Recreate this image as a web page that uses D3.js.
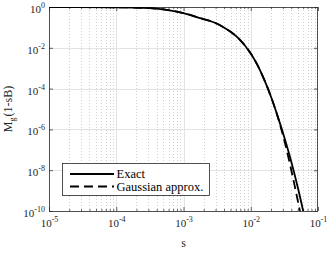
<!DOCTYPE html>
<html>
<head>
<meta charset="utf-8">
<script src="https://cdn.jsdelivr.net/npm/d3@7"></script>
<style>
  body { margin: 0; background: #fff; }
</style>
</head>
<body>
<div id="chart"></div>
<script>
// Size of the page and the plot box
const width = 330;
const height = 253;
const margin = { top: 7, right: 12, bottom: 42, left: 49 };
const fontFamily = "'Liberation Serif', 'Times New Roman', Times, 'DejaVu Serif', serif";

// Data
const sValues = [1e-5, 1e-4, 3.16e-4, 5.62e-4, 1e-3, 1.78e-3, 3.16e-3, 3.98e-3, 6.31e-3,
                 1e-2, 1.26e-2, 1.58e-2, 2e-2, 2.51e-2, 3.16e-2, 3.98e-2, 5.01e-2, 6.31e-2];
const exactValues = [0.999, 0.966, 0.871, 0.724, 0.50, 0.282, 0.151, 0.100, 0.0331,
                     5.25e-3, 1.41e-3, 2.82e-4, 3.98e-5, 4.47e-6, 3.98e-7, 2.82e-8, 1.41e-9, 5.01e-11];
const gaussValues = [0.999, 0.966, 0.871, 0.724, 0.50, 0.282, 0.151, 0.100, 0.0331,
                     5.25e-3, 1.41e-3, 2.82e-4, 3.98e-5, 4.3e-6, 2.82e-7, 1.12e-8, 3.16e-10, 7.08e-12];
const seriesNames = ["Exact", "Gaussian approx."];

// Ticks
const xTicks = [1e-5, 1e-4, 1e-3, 1e-2, 1e-1];
const xTickExp = ["-5", "-4", "-3", "-2", "-1"];
const yTicks = [1, 1e-2, 1e-4, 1e-6, 1e-8, 1e-10];
const yTickExp = ["0", "-2", "-4", "-6", "-8", "-10"];
const minorMult = [2, 3, 4, 5, 6, 7, 8, 9];

const axisColor = "#262626";

const x = d3.scaleLog()
    .domain([1e-5, 1e-1])
    .range([margin.left, width - margin.right]);

const y = d3.scaleLog()
    .domain([1e-10, 1])
    .range([height - margin.bottom, margin.top]);

const svg = d3.select("#chart")
    .append("svg")
    .attr("width", width)
    .attr("height", height)
    .attr("font-family", fontFamily)
    .style("display", "block");

const x0 = x.range()[0], x1 = x.range()[1];
const y0 = y.range()[1], y1 = y.range()[0];

// minor x values
const xMinor = [];
xTicks.slice(0, -1).forEach(t => minorMult.forEach(m => xMinor.push(t * m)));

// Grid: minor dotted, major light solid
svg.append("g")
    .selectAll("line")
    .data(xMinor)
    .enter()
    .append("line")
    .attr("x1", d => Math.round(x(d)) + 0.5).attr("x2", d => Math.round(x(d)) + 0.5)
    .attr("y1", y0).attr("y2", y1)
    .attr("stroke", "#c4c4c4")
    .attr("stroke-width", 0.8)
    .attr("stroke-dasharray", "1,2");

svg.append("g")
    .selectAll("line")
    .data(xTicks.slice(1, -1))
    .enter()
    .append("line")
    .attr("x1", d => Math.round(x(d)) + 0.5).attr("x2", d => Math.round(x(d)) + 0.5)
    .attr("y1", y0).attr("y2", y1)
    .attr("stroke", "#e3e3e3")
    .attr("stroke-width", 1);

svg.append("g")
    .selectAll("line")
    .data(yTicks.slice(1, -1))
    .enter()
    .append("line")
    .attr("x1", x0).attr("x2", x1)
    .attr("y1", d => Math.round(y(d)) + 0.5).attr("y2", d => Math.round(y(d)) + 0.5)
    .attr("stroke", "#e3e3e3")
    .attr("stroke-width", 1);

// Axes (ticks pointing inward, box on all four sides)
const fmtNone = () => "";
function styleAxis(g) {
    g.select(".domain").remove();
    g.selectAll("line").attr("stroke", axisColor).attr("stroke-width", 0.7);
}

svg.append("g")
    .attr("transform", `translate(0,${y1})`)
    .call(d3.axisBottom(x).tickValues(xTicks).tickSize(-4).tickFormat(fmtNone))
    .call(styleAxis);
svg.append("g")
    .attr("transform", `translate(0,${y1})`)
    .call(d3.axisBottom(x).tickValues(xMinor).tickSize(-2).tickFormat(fmtNone))
    .call(styleAxis);
svg.append("g")
    .attr("transform", `translate(0,${y0})`)
    .call(d3.axisTop(x).tickValues(xTicks).tickSize(-4).tickFormat(fmtNone))
    .call(styleAxis);
svg.append("g")
    .attr("transform", `translate(0,${y0})`)
    .call(d3.axisTop(x).tickValues(xMinor).tickSize(-2).tickFormat(fmtNone))
    .call(styleAxis);
svg.append("g")
    .attr("transform", `translate(${x0},0)`)
    .call(d3.axisLeft(y).tickValues(yTicks).tickSize(-4).tickFormat(fmtNone))
    .call(styleAxis);
svg.append("g")
    .attr("transform", `translate(${x1},0)`)
    .call(d3.axisRight(y).tickValues(yTicks).tickSize(-4).tickFormat(fmtNone))
    .call(styleAxis);

// Frame
svg.append("rect")
    .attr("x", x0 + 0.5).attr("y", y0 + 0.5)
    .attr("width", x1 - x0 - 1).attr("height", y1 - y0)
    .attr("fill", "none")
    .attr("stroke", axisColor)
    .attr("stroke-width", 0.8);

// Tick labels with superscripts
function powerLabel(sel, exp) {
    sel.append("tspan").text("10");
    sel.append("tspan").attr("dy", -5).attr("font-size", 8).text(exp);
}

xTicks.forEach((t, i) => {
    svg.append("text")
        .attr("x", x(t) + 0.5)
        .attr("y", y1 + 16)
        .attr("text-anchor", "middle")
        .attr("font-size", 11)
        .attr("fill", axisColor)
        .call(powerLabel, xTickExp[i]);
});

yTicks.forEach((t, i) => {
    svg.append("text")
        .attr("x", x0 - 4)
        .attr("y", y(t) + 6)
        .attr("text-anchor", "end")
        .attr("font-size", 11)
        .attr("fill", axisColor)
        .call(powerLabel, yTickExp[i]);
});

// Axis titles
svg.append("text")
    .attr("x", (x0 + x1) / 2)
    .attr("y", 247)
    .attr("text-anchor", "middle")
    .attr("font-size", 12)
    .attr("fill", axisColor)
    .text("s");

const yLabel = svg.append("text")
    .attr("transform", `translate(12,${(y0 + y1) / 2}) rotate(-90)`)
    .attr("text-anchor", "middle")
    .attr("font-size", 12)
    .attr("fill", axisColor);
yLabel.append("tspan").text("M");
yLabel.append("tspan").attr("dy", 3).attr("font-size", 8).text("g");
yLabel.append("tspan").attr("dy", -3).attr("dx", 1).text("(1-sB)");

// Curves
svg.append("clipPath")
    .attr("id", "plot-clip")
    .append("rect")
    .attr("x", x0).attr("y", y0)
    .attr("width", x1 - x0).attr("height", y1 - y0);

const line = d3.line()
    .x(d => x(d[0]))
    .y(d => y(d[1]))
    .curve(d3.curveMonotoneX);

const curves = svg.append("g").attr("clip-path", "url(#plot-clip)");

curves.append("path")
    .datum(sValues.map((s, i) => [s, gaussValues[i]]))
    .attr("d", line)
    .attr("fill", "none")
    .attr("stroke", "#000")
    .attr("stroke-width", 1.8)
    .attr("stroke-dasharray", "9,5");

curves.append("path")
    .datum(sValues.map((s, i) => [s, exactValues[i]]))
    .attr("d", line)
    .attr("fill", "none")
    .attr("stroke", "#000")
    .attr("stroke-width", 1.8);

// Legend
const legend = svg.append("g").attr("transform", "translate(62,163)");
legend.append("rect")
    .attr("x", 0.5).attr("y", 0.5)
    .attr("width", 147).attr("height", 32)
    .attr("fill", "#fff")
    .attr("stroke", axisColor)
    .attr("stroke-width", 0.8);

seriesNames.forEach((name, i) => {
    const ly = 11 + i * 12.5;
    legend.append("line")
        .attr("x1", 8).attr("x2", 52)
        .attr("y1", ly).attr("y2", ly)
        .attr("stroke", "#000")
        .attr("stroke-width", 1.8)
        .attr("stroke-dasharray", i === 1 ? "9,5" : null);
    legend.append("text")
        .attr("x", 54.5)
        .attr("y", ly + 4)
        .attr("font-size", 12.5)
        .attr("fill", "#000")
        .text(name);
});
</script>
</body>
</html>
